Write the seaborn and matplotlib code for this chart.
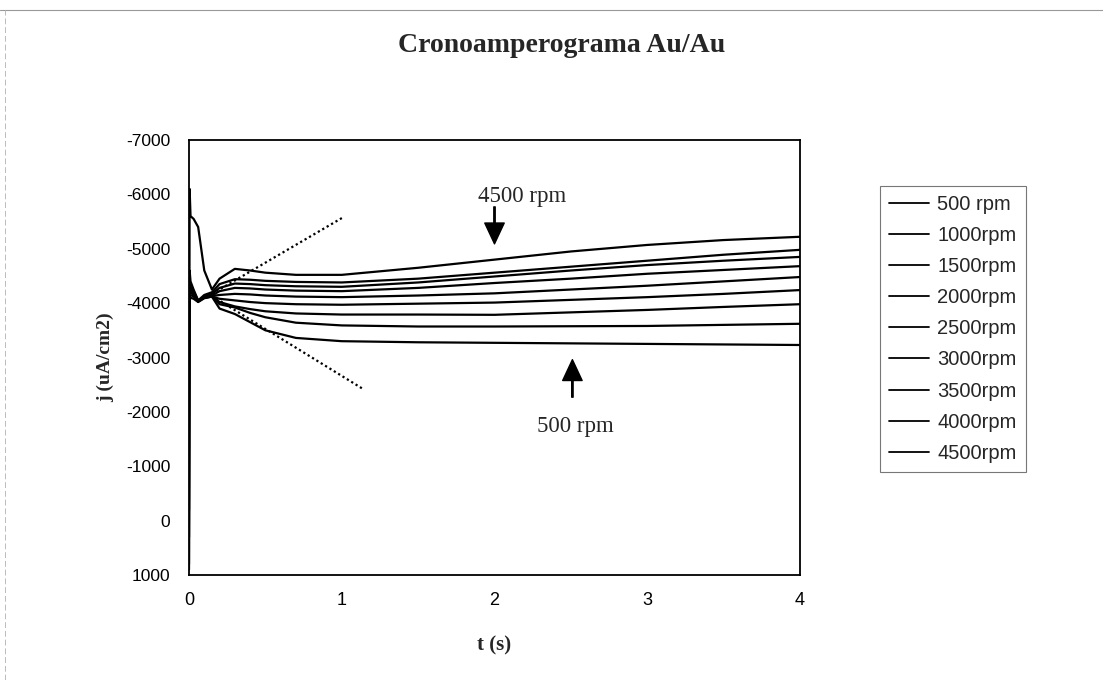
import matplotlib
matplotlib.use("Agg")
import matplotlib.pyplot as plt
from matplotlib.lines import Line2D
import numpy as np
import pandas as pd
import seaborn as sns

# ---------------- data ----------------
t_s = [0, 0.004, 0.01, 0.03, 0.06, 0.1, 0.15, 0.2, 0.3, 0.4, 0.5, 0.7,
       1.0, 1.5, 2.0, 2.5, 3.0, 3.5, 4.0]

series_names = ["500 rpm", "1000rpm", "1500rpm", "2000rpm", "2500rpm",
                "3000rpm", "3500rpm", "4000rpm", "4500rpm"]

j_500 = [-3900, -4050, -4100, -4080, -4020, -4090, -4120, -3900, -3800, -3650,
         -3500, -3360, -3300, -3280, -3270, -3260, -3250, -3240, -3230]
j_1000 = [-3950, -4100, -4150, -4120, -4030, -4100, -4120, -3980, -3920, -3820,
          -3740, -3640, -3590, -3570, -3570, -3575, -3580, -3600, -3620]
j_1500 = [-200, -4150, -4200, -4150, -4030, -4100, -4120, -4020, -3940, -3890,
          -3850, -3810, -3790, -3790, -3785, -3830, -3875, -3930, -3980]
j_2000 = [-4000, -4200, -4250, -4180, -4040, -4110, -4120, -4080, -4050, -4020,
          -4000, -3980, -3970, -3990, -4010, -4060, -4110, -4170, -4240]
j_2500 = [-4050, -4300, -4280, -4200, -4040, -4110, -4130, -4150, -4170, -4160,
          -4140, -4120, -4110, -4140, -4180, -4250, -4320, -4400, -4480]
j_3000 = [-4100, -4350, -4300, -4220, -4040, -4110, -4140, -4220, -4280, -4270,
          -4250, -4230, -4220, -4280, -4370, -4450, -4540, -4610, -4680]
j_3500 = [300, -4450, -4300, -4200, -4030, -4120, -4170, -4280, -4360, -4350,
          -4330, -4310, -4300, -4380, -4490, -4600, -4700, -4780, -4850]
j_4000 = [800, -4600, -4400, -4250, -4050, -4150, -4200, -4350, -4440, -4430,
          -4410, -4390, -4380, -4450, -4560, -4670, -4780, -4890, -4980]
j_4500 = [900, -6100, -5600, -5550, -5400, -4600, -4250, -4450, -4630, -4600,
          -4560, -4520, -4520, -4650, -4800, -4950, -5070, -5160, -5220]

all_j = [j_500, j_1000, j_1500, j_2000, j_2500, j_3000, j_3500, j_4000, j_4500]

guide_upper_t = [0.15, 1.01]
guide_upper_j = [-4170, -5580]
guide_lower_t = [0.15, 1.14]
guide_lower_j = [-4130, -2420]

x_ticks = [0, 1, 2, 3, 4]
y_ticks = [-7000, -6000, -5000, -4000, -3000, -2000, -1000, 0, 1000]

title_text = "Cronoamperograma Au/Au"
xlabel_text = "t (s)"
ylabel_text = "j (uA/cm2)"
note_high = "4500 rpm"
note_low = "500 rpm"

# ---------------- frame ----------------
rows = []
for name, vals in zip(series_names, all_j):
    for t, v in zip(t_s, vals):
        rows.append({"t": t, "j": v, "serie": name})
df = pd.DataFrame(rows)

sns.set_style("white")
plt.rcParams["font.family"] = ["Liberation Sans", "DejaVu Sans"]
plt.rcParams["axes.unicode_minus"] = False

fig = plt.figure(figsize=(11.03, 6.80), dpi=100)
ax = fig.add_axes([189 / 1103, 1 - 575 / 680, 611 / 1103, 435 / 680])

sns.lineplot(data=df, x="t", y="j", hue="serie", hue_order=series_names,
             palette=["black"] * len(series_names), sort=False,
             estimator=None, linewidth=1.6, ax=ax, legend=True)

ax.plot(guide_upper_t, guide_upper_j, color="black", lw=1.6,
        linestyle=(0, (1, 1.3)))
ax.plot(guide_lower_t, guide_lower_j, color="black", lw=1.6,
        linestyle=(0, (1, 1.3)))

ax.set_xlim(0, 4)
ax.set_ylim(1000, -7000)
ax.set_xticks(x_ticks)
ax.set_yticks(y_ticks)
ax.set_xticklabels([str(v) for v in x_ticks])
ax.set_yticklabels([str(v) for v in y_ticks])
ax.tick_params(axis="both", direction="inout", length=9, width=0.8,
               labelsize=13, colors="black", pad=8)
ax.tick_params(axis="y", labelsize=12.5, pad=9)
for sp in ax.spines.values():
    sp.set_color("black")
    sp.set_linewidth(1.3)

serif = ["Liberation Serif", "DejaVu Serif"]
ax.set_xlabel(xlabel_text, fontsize=15, fontweight="bold", family=serif)
ax.set_ylabel(ylabel_text, fontsize=14, fontweight="bold", family=serif)
ax.xaxis.set_label_coords(0.5, -0.14)
ax.yaxis.set_label_coords(-0.122, 0.5)

# annotations
ax.annotate("", xy=(2.0, -5090), xytext=(2.0, -5770),
            arrowprops=dict(facecolor="black", edgecolor="black", width=1.0,
                            headwidth=14, headlength=15, shrink=0))
ax.annotate("", xy=(2.51, -2960), xytext=(2.51, -2270),
            arrowprops=dict(facecolor="black", edgecolor="black", width=1.0,
                            headwidth=14, headlength=15, shrink=0))
ax.text(1.895, -5860, note_high, fontsize=16.5, family=serif,
        ha="left", va="baseline")
ax.text(2.278, -1632, note_low, fontsize=16.5, family=serif,
        ha="left", va="baseline")

# legend
handles, labels = ax.get_legend_handles_labels()
hl = [(h, l) for h, l in zip(handles, labels) if l in series_names]
leg = ax.legend([h for h, _ in hl], [l for _, l in hl],
                loc="upper left", bbox_to_anchor=(880 / 1103, 1 - 186 / 680),
                bbox_transform=fig.transFigure, frameon=True, fancybox=False,
                shadow=False, fontsize=14.5, handlelength=2.0,
                handletextpad=0.4, labelspacing=0.6, borderpad=0.45,
                borderaxespad=0)
leg.get_frame().set_edgecolor("#555555")
leg.get_frame().set_linewidth(0.8)
for line in leg.get_lines():
    line.set_linewidth(1.3)

fig.text(562 / 1103, 1 - 52 / 680, title_text, fontsize=20,
         fontweight="bold", family=serif, ha="center", va="baseline")

# scanned page border
fig.add_artist(Line2D([0, 1], [1 - 10 / 680, 1 - 10 / 680],
                      transform=fig.transFigure, color="#999999", lw=0.8))
fig.add_artist(Line2D([5 / 1103, 5 / 1103], [0, 1 - 10 / 680],
                      transform=fig.transFigure, color="#bbbbbb", lw=0.7,
                      linestyle=(0, (6, 3))))

fig.savefig("out.png", dpi=100)
